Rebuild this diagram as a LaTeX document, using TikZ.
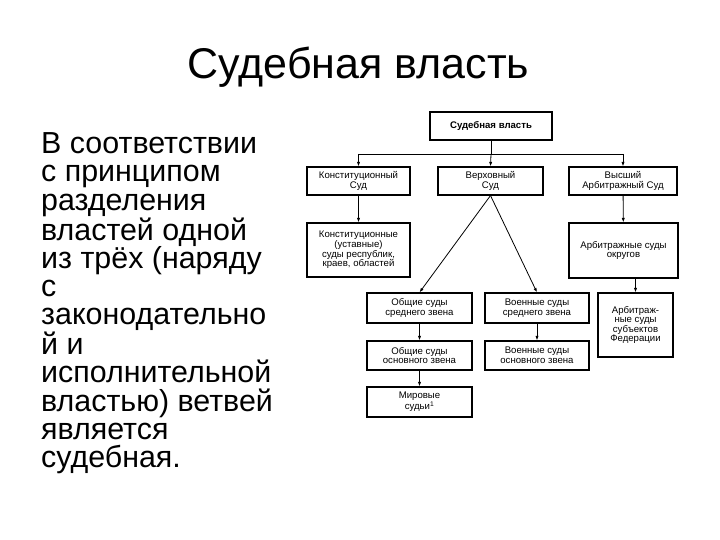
\documentclass[tikz,border=0pt]{standalone}
\usepackage{fontspec}
\setmainfont{Liberation Sans}
\usetikzlibrary{arrows.meta}
\begin{document}
\begin{tikzpicture}[x=1pt,y=-1pt,
	box/.style={draw,line width=1.1pt,inner sep=1pt,align=center,
		font=\fontsize{9.6}{9.6}\selectfont},
	head/.style={box,font=\bfseries\fontsize{9.6}{9.6}\selectfont},
	arr/.style={-{Latex[length=4.5pt,width=3.2pt]},line width=0.8pt}]
\useasboundingbox (0,0) rectangle (720,540);
\node[anchor=base,inner sep=0,font=\fontsize{43}{50}\selectfont] (title) at (358.5,79) {Судебная власть};
\node[anchor=north west,align=left,inner sep=0,font=\fontsize{30.4}{28.3}\selectfont] (intro) at (41,132.5)
	{В соответствии\\с принципом\\разделения\\властей одной\\из трёх (наряду\\с\\законодательно\\й и\\исполнительной\\властью) ветвей\\является\\судебная.};
% schema
\node[head,minimum width=122pt,minimum height=28pt] (sv) at (491,126) {Судебная власть};
\node[box,minimum width=103pt,minimum height=28pt] (ks) at (358.5,181) {Конституционный\\Суд};
\node[box,minimum width=105pt,minimum height=28pt] (vs) at (490.5,181) {Верховный\\Суд};
\node[box,minimum width=108pt,minimum height=28pt] (vas) at (623,181) {Высший\\Арбитражный Суд};
\node[box,minimum width=103pt,minimum height=54pt] (kus) at (358.5,250) {Конституционные\\(уставные)\\суды республик,\\краев, областей};
\node[box,minimum width=109pt,minimum height=55pt] (aso) at (623.5,250.5) {Арбитражные суды\\округов};
\node[box,minimum width=105pt,minimum height=30pt] (oss) at (419.5,308) {Общие суды\\среднего звена};
\node[box,minimum width=104pt,minimum height=30pt] (vss) at (537,308) {Военные суды\\среднего звена};
\node[box,minimum width=75pt,minimum height=64pt] (ass) at (635.5,325) {Арбитраж-\\ные суды\\субъектов\\Федерации};
\node[box,minimum width=105pt,minimum height=29pt] (oso) at (419.5,355.5) {Общие суды\\основного звена};
\node[box,minimum width=104pt,minimum height=29pt] (vso) at (537,355.5) {Военные суды\\основного звена};
\node[box,minimum width=105pt,minimum height=30pt] (ms) at (419.5,402) {Мировые\\судьи\textsuperscript{1}};
% connectors
\coordinate (hub) at (491,154);
\draw[line width=0.8pt] (sv.south) -- (hub);
\draw[line width=0.8pt] (ks.north |- hub) -- (vas.north |- hub);
\draw[arr] (ks.north |- hub) -- (ks.north);
\draw[arr] (hub) -- (vs.north);
\draw[arr] (vas.north |- hub) -- (vas.north);
\draw[arr] (ks) -- (kus);
\draw[arr] (vas) -- (aso);
\draw[arr] (ass.north |- aso.south) -- (ass.north);
\draw[arr] (vs.south) -- (oss.north);
\draw[arr] (vs.south) -- (vss.north);
\draw[arr] (oss) -- (oso);
\draw[arr] (vss) -- (vso);
\draw[arr] (oso) -- (ms);
\end{tikzpicture}
\end{document}
